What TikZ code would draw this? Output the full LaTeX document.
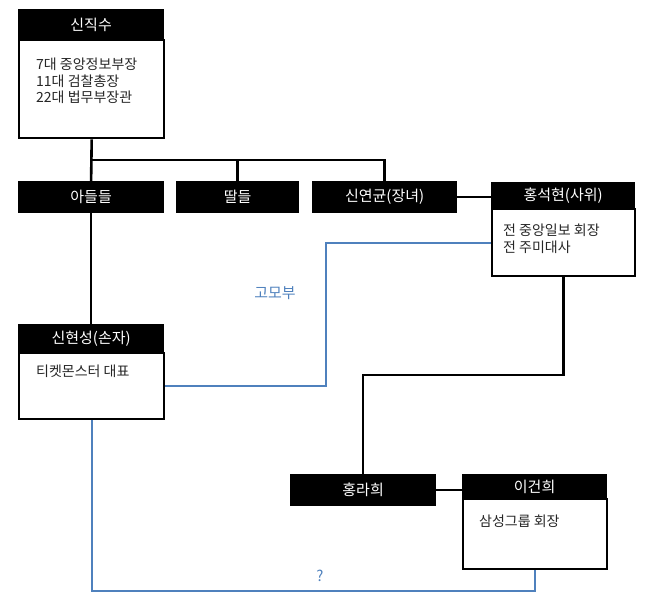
\documentclass[tikz,border=0pt]{standalone}
\usepackage{fontspec}
\setmainfont{Noto Sans CJK KR}
\definecolor{lineblue}{RGB}{79,129,189}
\newcommand{\hfont}{\fontsize{15}{17}\selectfont}
\newcommand{\bfont}{\fontsize{14}{16.5}\selectfont}
\begin{document}
\begin{tikzpicture}[
  x=1pt, y=-1pt,
  hdr/.style={fill=black, draw=black, line width=1.2pt, text=white, font=\hfont,
    anchor=north west, inner sep=0pt, minimum height=29pt},
  bodybox/.style={draw=black, line width=2.4pt, fill=white, anchor=north west, inner sep=0pt},
  info/.style={font=\bfont, align=left, anchor=north west, inner sep=0pt, text=black!85},
  link/.style={line width=2.6pt, black},
  blueline/.style={line width=2.1pt, lineblue},
  note/.style={text=lineblue, font=\fontsize{15}{17}\selectfont, inner sep=0pt}
]
\useasboundingbox (0,0) rectangle (655,609);
% people with a body box
\node[bodybox, minimum width=145pt, minimum height=98pt] (sjs-b) at (18,39) {};
\node[hdr, minimum width=145pt, minimum height=31pt] (sjs) at (18,9) {신직수};
\node[info] (sjs-t) at (36,58) {7대 중앙정보부장\\11대 검찰총장\\22대 법무부장관};

\node[bodybox, minimum width=143pt, minimum height=67pt] (hsh-b) at (491,208) {};
\node[hdr, minimum width=143pt, minimum height=27pt] (hsh) at (491,182) {홍석현(사위)};
\node[info] (hsh-t) at (503,224) {전 중앙일보 회장\\전 주미대사};

\node[bodybox, minimum width=145pt, minimum height=66pt] (shs-b) at (18,352) {};
\node[hdr, minimum width=145pt, minimum height=29pt] (shs) at (18,324) {신현성(손자)};
\node[info] (shs-t) at (36,365) {티켓몬스터 대표};

\node[bodybox, minimum width=144pt, minimum height=70pt] (lgh-b) at (462,498) {};
\node[hdr, minimum width=144pt, minimum height=25pt] (lgh) at (462,474) {이건희};
\node[info] (lgh-t) at (479,515) {삼성그룹 회장};

% header-only boxes
\node[hdr, minimum width=145pt, minimum height=31pt] (adl) at (18,181) {아들들};
\node[hdr, minimum width=122pt, minimum height=31pt] (ddl) at (176,181) {딸들};
\node[hdr, minimum width=144pt, minimum height=31pt] (syg) at (312,181) {신연균(장녀)};
\node[hdr, minimum width=145pt, minimum height=31pt] (hrh) at (290,474) {홍라희};

% family lines
\coordinate (bar) at (0,160);
\coordinate (turn) at (0,375);
\draw[link] (sjs-b.south) -- (adl.north);
\draw[link] (adl.north |- bar) -- (syg.north |- bar) -- (syg.north);
\draw[link] (ddl.north |- bar) -- (ddl.north);
\draw[link] (syg.east) -- (syg.east -| hsh.west);
\draw[link] (adl.south) -- (shs.north);
\draw[link] (hsh-b.south) -- (hsh-b.south |- turn) -| (hrh.north);
\draw[link] (hrh.east) -- (hrh.east -| lgh.west);

% blue links
\coordinate (kink) at (326,300);
\coordinate (low) at (300,591);
\draw[blueline] (shs-b.east) -| (kink) |- (hsh-b.west);
\draw[blueline] (shs-b.south) |- (low) -| (lgh-b.south);
\node[note] (gmb) at (275,293) {고모부};
\node[note] (qst) at (320,576) {?};
\end{tikzpicture}
\end{document}
